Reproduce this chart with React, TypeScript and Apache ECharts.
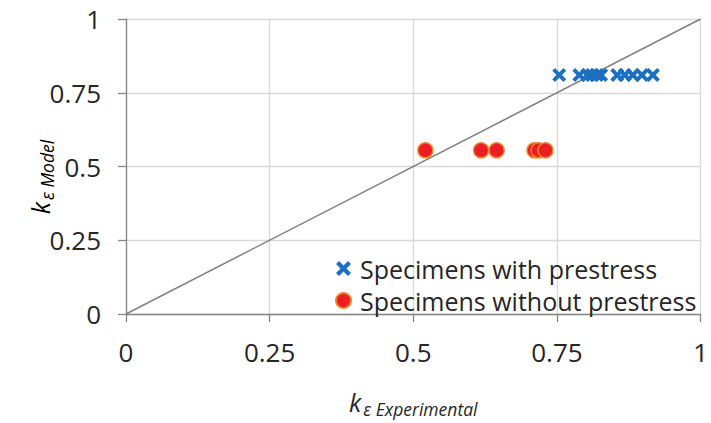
import React, { useEffect, useRef } from "react";
import * as echarts from "echarts";

const withPrestressX = [0.754, 0.789, 0.803, 0.811, 0.82, 0.827, 0.855, 0.868, 0.882, 0.898, 0.917];
const withPrestressY = [0.81, 0.81, 0.81, 0.81, 0.81, 0.81, 0.81, 0.81, 0.81, 0.81, 0.81];
const withoutPrestressX = [0.521, 0.618, 0.645, 0.711, 0.718, 0.73];
const withoutPrestressY = [0.555, 0.555, 0.555, 0.555, 0.555, 0.555];
const diagonal = [[0, 0], [1, 1]];
const tickValues = [0, 0.25, 0.5, 0.75, 1];

const seriesNames = ["Specimens with prestress", "Specimens without prestress"];

const crossPath =
  "path://M0,2 L2,0 L5,3 L8,0 L10,2 L7,5 L10,8 L8,10 L5,7 L2,10 L0,8 L3,5 Z";

const FONT = "Open Sans";

export default function App() {
  const ref = useRef<HTMLDivElement>(null);
  useEffect(() => {
    if (!ref.current) return;
    const chart = echarts.init(ref.current, undefined, { renderer: "svg" });
    const fmt = (v: number) => (tickValues.includes(v) ? String(v) : "");
    const axisCommon = {
      type: "value",
      min: 0,
      max: 1,
      interval: 0.25,
      axisLine: { show: true, lineStyle: { color: "#868686", width: 1.3 } },
      axisTick: { show: true, length: 8, lineStyle: { color: "#868686", width: 1.3 } },
      splitLine: { show: true, lineStyle: { color: "#d9d9d9", width: 1.3 } },
      axisLabel: { color: "#262626", fontSize: 26, fontFamily: FONT, formatter: fmt },
      nameLocation: "middle",
    };
    const nameRich = {
      k: { fontSize: 25, fontStyle: "italic", fontFamily: FONT, color: "#262626" },
      s: { fontSize: 17.5, fontStyle: "italic", fontFamily: FONT, color: "#262626", padding: [14, 0, 0, 2] },
    };
    chart.setOption({
      animation: false,
      backgroundColor: "#ffffff",
      grid: { left: 126, top: 19, right: 7, bottom: 103 },
      xAxis: {
        ...axisCommon,
        axisLabel: { ...axisCommon.axisLabel, margin: 25 },
        name: "{k|k}{s|ε Experimental}",
        nameGap: 72,
        nameTextStyle: { rich: nameRich },
      },
      yAxis: {
        ...axisCommon,
        axisLabel: { ...axisCommon.axisLabel, margin: 25 },
      },
      graphic: [
        {
          type: "text",
          x: 40,
          y: 177,
          rotation: Math.PI / 2,
          style: {
            text: "{k|k}{s|ε Model}",
            rich: nameRich,
            align: "center",
            verticalAlign: "middle",
          },
        },
      ],
      legend: {
        data: seriesNames,
        orient: "vertical",
        left: 330,
        top: 251,
        itemWidth: 15,
        itemHeight: 15,
        itemGap: 7,
        textStyle: { fontSize: 25, fontFamily: FONT, color: "#262626", padding: [0, 0, 0, 4] },
      },
      series: [
        {
          type: "line",
          data: diagonal,
          showSymbol: false,
          symbol: "none",
          lineStyle: { color: "#808080", width: 1.5 },
          silent: true,
          z: 1,
        },
        {
          name: seriesNames[0],
          type: "scatter",
          data: withPrestressX.map((x, i) => [x, withPrestressY[i]]),
          symbol: crossPath,
          symbolSize: 14,
          itemStyle: { color: "#1f6fc0", opacity: 1 },
          z: 3,
        },
        {
          name: seriesNames[1],
          type: "scatter",
          data: withoutPrestressX.map((x, i) => [x, withoutPrestressY[i]]),
          symbol: "circle",
          symbolSize: 15,
          itemStyle: { color: "#ee1c24", borderColor: "#e8892a", borderWidth: 1.5, opacity: 1 },
          z: 3,
        },
      ],
    });
    return () => chart.dispose();
  }, []);
  return <div ref={ref} style={{ width: 711, height: 423, position: "absolute", left: 0, top: 0 }} />;
}
